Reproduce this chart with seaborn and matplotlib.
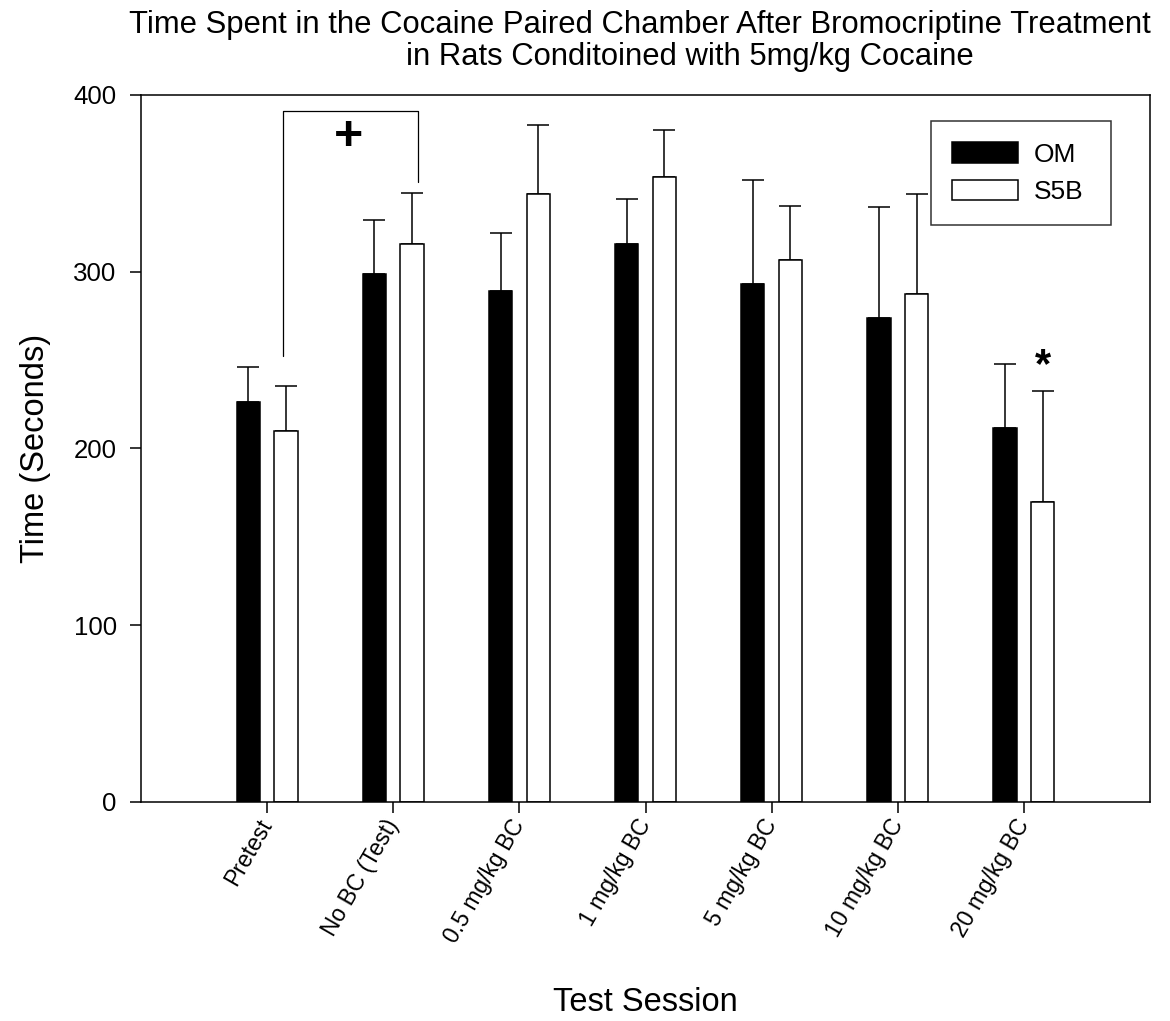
import numpy as np
import pandas as pd
import matplotlib
matplotlib.use("Agg")
import matplotlib.pyplot as plt
import seaborn as sns

# ---------------- data ----------------
sessions = ["Pretest", "No BC (Test)", "0.5 mg/kg BC", "1 mg/kg BC",
            "5 mg/kg BC", "10 mg/kg BC", "20 mg/kg BC"]
groups = ["OM", "S5B"]
om_mean = [226.5, 298.8, 288.8, 315.4, 293.0, 273.5, 211.4]
om_sem = [19.7, 30.2, 33.2, 25.7, 58.9, 62.9, 36.1]
s5b_mean = [209.9, 315.6, 344.0, 353.7, 306.4, 287.5, 169.7]
s5b_sem = [25.5, 29.1, 39.0, 26.5, 30.9, 56.6, 62.9]
y_ticks = [0, 100, 200, 300, 400]

title_line1 = "Time Spent in the Cocaine Paired Chamber After Bromocriptine Treatment"
title_line2 = "in Rats Conditoined with 5mg/kg Cocaine"
x_label = "Test Session"
y_label = "Time (Seconds)"

# ---------------- style ----------------
sns.set_style("ticks")
plt.rcParams["font.family"] = ["Liberation Sans", "DejaVu Sans"]
for k in ["text.color", "axes.labelcolor", "xtick.color", "ytick.color", "axes.edgecolor"]:
    plt.rcParams[k] = "black"
plt.rcParams["axes.linewidth"] = 1.1

df = pd.DataFrame({
    "session": sessions * 2,
    "group": [groups[0]] * len(sessions) + [groups[1]] * len(sessions),
    "value": om_mean + s5b_mean,
})
sems = {"OM": om_sem, "S5B": s5b_sem}

fig = plt.figure(figsize=(11.70, 10.21), dpi=100)
ax = fig.add_axes([141 / 1170, 1 - 801.7 / 1021, (1150 - 141) / 1170, (801.7 - 95) / 1021])

sns.barplot(data=df, x="session", y="value", hue="group", order=sessions,
            hue_order=groups, palette={"OM": "black", "S5B": "white"},
            edgecolor="black", linewidth=1.1, width=0.596, gap=0.38,
            errorbar=None, ax=ax, zorder=2)

# one-sided error bars from the bars themselves
for container, g in zip(ax.containers, groups):
    xs = [b.get_x() + b.get_width() / 2 for b in container]
    hs = [b.get_height() for b in container]
    err = np.array(sems[g])
    ax.errorbar(xs, hs, yerr=[np.zeros_like(err), err], fmt="none",
                ecolor="black", elinewidth=1.1, capsize=7.9, capthick=1.1,
                zorder=1)

ax.set_xlim(-1, 7)
ax.set_ylim(0, 400)
ax.set_yticks(y_ticks)
ax.set_yticklabels([str(t) for t in y_ticks], fontsize=18.6)
ax.set_xticks(range(len(sessions)))
ax.set_xticklabels(sessions, fontsize=16.5, rotation=60, ha="right",
                   va="center", rotation_mode="anchor")
ax.tick_params(axis="both", direction="out", length=8, width=1.1, color="black",
               labelcolor="black")
ax.tick_params(axis="y", pad=9.5)
ax.tick_params(axis="x", pad=6)
for s in ax.spines.values():
    s.set_visible(True)
    s.set_color("black")
    s.set_linewidth(1.1)

ax.set_xlabel(x_label, fontsize=23.5)
ax.xaxis.set_label_coords(0.5, -0.262)
ax.xaxis.label.set_va("top")
ax.set_ylabel(y_label, fontsize=23.5, labelpad=16)

# legend
leg = ax.legend(loc="upper left",
                bbox_to_anchor=(0.783, 0.953, (1111 - 931) / 1009, 0.01),
                mode="expand", frameon=True,
                fontsize=19, handlelength=2.5, handleheight=0.82,
                borderpad=0.8, labelspacing=0.5, handletextpad=0.6,
                fancybox=False, borderaxespad=0)
leg.get_frame().set_edgecolor("black")
leg.get_frame().set_linewidth(1.1)
leg.set_title(None)

# significance annotations
bracket_left, bracket_right = 0.127, 1.2
ax.plot([bracket_left, bracket_left, bracket_right, bracket_right],
        [252, 391, 391, 351], color="black", lw=0.9, zorder=3)
ax.text(0.643, 376, "+", fontsize=36, fontweight="bold", ha="center", va="center")
ax.text(6.149, 246.5, "*", fontsize=30, fontweight="bold", ha="center", va="center")

# title (two lines placed individually)
fig.text(640 / 1170, 1 - 33 / 1021, title_line1, fontsize=22.3, ha="center", va="baseline")
fig.text(690 / 1170, 1 - 65 / 1021, title_line2, fontsize=22.3, ha="center", va="baseline")

fig.savefig("out.png", dpi=100)
